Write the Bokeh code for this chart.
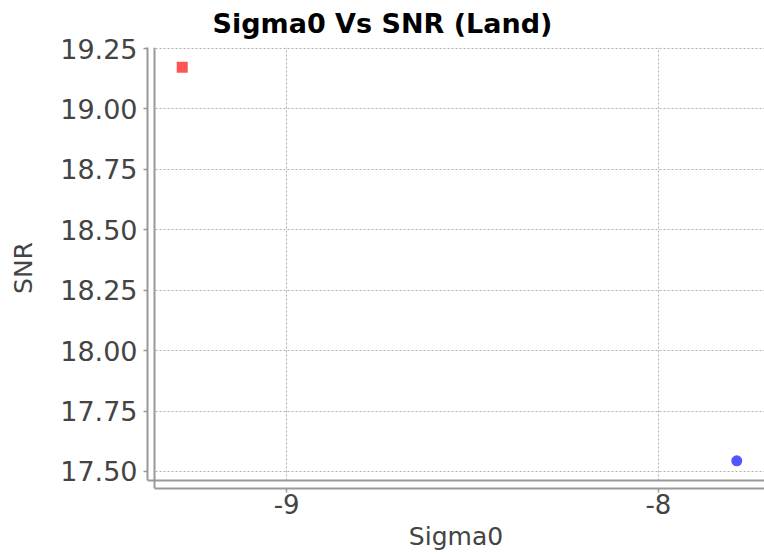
from bokeh.plotting import figure
from bokeh.models import Range1d, FixedTicker, PrintfTickFormatter, Span, BoxAnnotation
from bokeh.embed import file_html
from bokeh.resources import INLINE

# data
sigma0_s1 = [-9.281]
snr_s1 = [19.173]
sigma0_s2 = [-7.789]
snr_s2 = [17.544]
x_ticks = [-9, -8]
y_ticks = [17.5, 17.75, 18.0, 18.25, 18.5, 18.75, 19.0, 19.25]

W, H = 764, 554
ml, mr, mt, mb = 147, 0, 47, 66
frame_w = W - ml - mr
frame_h = H - mt - mb
gap_x, gap_y = 7, 8  # offset between axis lines and plot area

allx = sigma0_s1 + sigma0_s2
ally = snr_s1 + snr_s2
xspan = max(allx) - min(allx)
yspan = max(ally) - min(ally)
xlo, xhi = min(allx) - 0.05 * xspan, max(allx) + 0.05 * xspan
ylo, yhi = min(ally) - 0.05 * yspan, max(ally) + 0.05 * yspan
ppx = (frame_w - gap_x) / (xhi - xlo)
ppy = (frame_h - gap_y) / (yhi - ylo)
x0 = xlo - gap_x / ppx
y0 = ylo - gap_y / ppy

p = figure(width=W, height=H, output_backend="svg", toolbar_location=None,
           x_range=Range1d(x0, xhi), y_range=Range1d(y0, yhi),
           min_border_left=ml, min_border_right=mr, min_border_top=mt, min_border_bottom=mb,
           title="Sigma0 Vs SNR (Land)")
p.outline_line_color = None
p.background_fill_color = "white"
p.border_fill_color = "white"

p.title.text_font = "DejaVu Sans"
p.title.text_font_size = "27px"
p.title.text_font_style = "bold"
p.title.text_color = "#000000"
p.title.align = "left"
p.title.vertical_align = "top"
p.title.offset = 65
p.title.standoff = 14

for ax in (p.xaxis[0], p.yaxis[0]):
    ax.axis_line_color = "#999999"
    ax.axis_line_width = 2
    ax.major_tick_line_color = "#999999"
    ax.major_tick_line_width = 1.5
    ax.major_tick_out = 4
    ax.major_tick_in = 0
    ax.minor_tick_line_color = None
    ax.major_label_text_font = "DejaVu Sans"
    ax.major_label_text_font_size = "27px"
    ax.major_label_text_color = "#444444"
    ax.axis_label_text_font = "DejaVu Sans"
    ax.axis_label_text_font_style = "normal"
    ax.axis_label_text_color = "#444444"

p.xaxis.major_label_text_font_size = "26px"
p.xaxis.axis_label_text_font_size = "25px"
p.yaxis.axis_label_text_font_size = "25px"
p.xaxis.bounds = (xlo, xhi)
p.yaxis.bounds = (ylo, yhi)
p.xaxis.ticker = FixedTicker(ticks=x_ticks)
p.yaxis.ticker = FixedTicker(ticks=y_ticks)
p.yaxis.formatter = PrintfTickFormatter(format="%.2f")
p.xaxis.formatter = PrintfTickFormatter(format="%d")
p.xaxis.axis_label = "Sigma0"
p.yaxis.axis_label = "SNR"
p.xaxis.major_label_standoff = 1
p.yaxis.major_label_standoff = 6
p.xaxis.axis_label_standoff = 5
p.yaxis.axis_label_standoff = 19

for g in (p.xgrid[0], p.ygrid[0]):
    g.grid_line_color = "#b0b0b0"
    g.grid_line_dash = "2 2"
    g.grid_line_width = 1

# white gap between axis lines and plot area
p.add_layout(BoxAnnotation(right=xlo, fill_color="white", fill_alpha=1, line_color=None, level="underlay"))
p.add_layout(BoxAnnotation(top=ylo, fill_color="white", fill_alpha=1, line_color=None, level="underlay"))
p.add_layout(Span(location=xlo, dimension="height", line_color="#999999", line_width=2))
p.add_layout(Span(location=ylo, dimension="width", line_color="#999999", line_width=2))

p.scatter(sigma0_s1, snr_s1, marker="square", size=11, fill_color="#ff5555", line_color=None)
p.scatter(sigma0_s2, snr_s2, marker="circle", size=11, fill_color="#5555ff", line_color=None)

open("out.html", "w").write(file_html(p, INLINE))
